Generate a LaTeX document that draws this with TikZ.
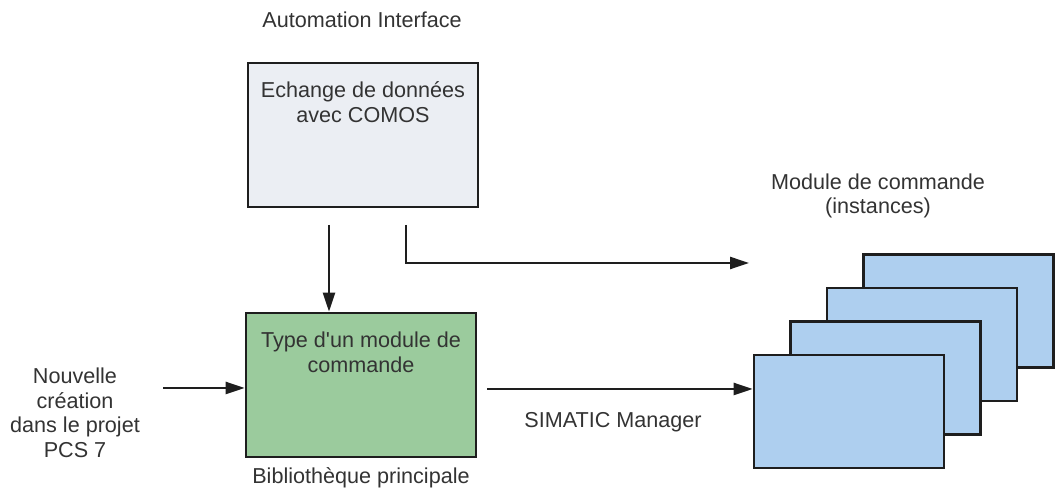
\documentclass[tikz,border=0pt]{standalone}
\usepackage{fontspec}
\setmainfont{Liberation Sans}[Ligatures=TeXOff]
\usetikzlibrary{arrows.meta}
\definecolor{txt}{HTML}{333333}
\definecolor{topfill}{HTML}{EBEEF3}
\definecolor{greenfill}{HTML}{9BCB9D}
\definecolor{bluefill}{HTML}{AECFEF}
\definecolor{edge}{HTML}{1E1E1E}
\begin{document}
\begin{tikzpicture}[x=1pt,y=1pt,
  box/.style={draw=edge,line width=2.6pt,inner sep=0pt,minimum width=#1,minimum height=144pt},
  inst/.style={draw=edge,line width=2.6pt,fill=bluefill,inner sep=0pt,minimum width=190pt,minimum height=113pt},
  lbl/.style={text=txt,font=\fontsize{21.6}{24.5}\selectfont,align=center,inner sep=0pt},
  arr/.style={draw=edge,line width=2.4pt,-{Triangle[length=19pt,width=12pt]}}]
\useasboundingbox (0,0) rectangle (1055,494);
% boxes
\node[box=230pt,fill=topfill] (ex) at (363,359) {};
\node[box=230pt,fill=greenfill] (ty) at (361,109) {};
\node[lbl,anchor=north] (exT) at ([yshift=-20pt]ex.north) {Echange de données\\avec COMOS};
\node[lbl,anchor=north] (tyT) at ([yshift=-20pt]ty.north) {Type d'un module de\\commande};
% instances stack
\node[inst] (i4) at (958.5,183) {};
\node[inst] (i3) at (922,149.5) {};
\node[inst] (i2) at (885.5,116) {};
\node[inst] (i1) at (849,82.5) {};
% labels
\node[lbl] (ai) at (362,474) {Automation Interface};
\node[lbl] (bp) at (361,16) {Bibliothèque principale};
\node[lbl] (mc) at (878,298) {Module de commande\\(instances)};
\node[lbl] (sm) at (613,72) {SIMATIC Manager};
\node[lbl,anchor=north] (nc) at (75,126) {Nouvelle\\création\\dans le projet\\PCS 7};
% connectors
\coordinate (s1) at (329,269);
\coordinate (s2) at (406,269);
\coordinate (e2) at (749,231);
\coordinate (s3) at (163,106);
\coordinate (s4) at (487,105);
\draw[arr] (s1) -- (ty.north -| s1);
\draw[arr] (s2) |- (e2);
\draw[arr] (s3) -- (ty.west |- s3);
\draw[arr] (s4) -- (i1.west |- s4);
\end{tikzpicture}
\end{document}
